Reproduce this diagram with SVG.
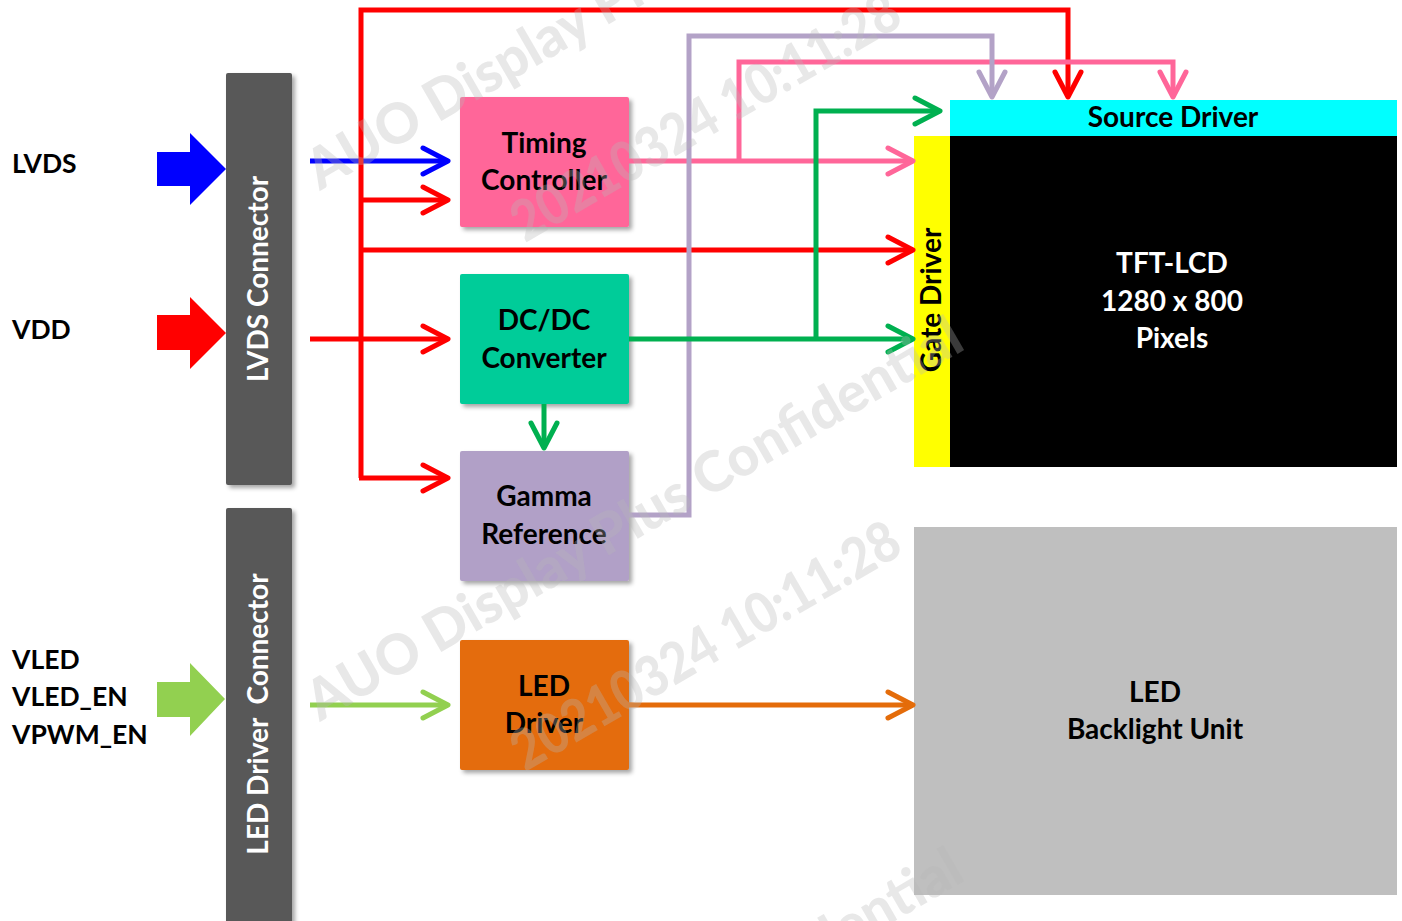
<svg xmlns="http://www.w3.org/2000/svg" width="1402" height="921" viewBox="0 0 1402 921">
<style>
.t{font-family:Lato,"Liberation Sans",sans-serif;font-weight:bold;font-size:28px;fill:#000;text-anchor:middle}
.lbl{font-family:Lato,"Liberation Sans",sans-serif;font-weight:bold;font-size:26.5px;fill:#000}
.w{fill:#fff}
.ln{fill:none;stroke-width:5;stroke-linejoin:miter}
.wm{font-family:Lato,"Liberation Sans",sans-serif;font-weight:900;font-size:56px;fill:#b8b8b8;fill-opacity:0.32}
</style>
<defs>
<filter id="sh" x="-10%" y="-10%" width="130%" height="130%">
<feDropShadow dx="3" dy="3" stdDeviation="2" flood-color="#000" flood-opacity="0.35"/>
</filter>
<marker id="aR" markerUnits="userSpaceOnUse" markerWidth="40" markerHeight="40" refX="28" refY="16" orient="auto"><path d="M3,3 L28,16 L3,29" fill="none" stroke="#ff0000" stroke-width="5" stroke-linecap="round" stroke-linejoin="round"/></marker>
<marker id="aB" markerUnits="userSpaceOnUse" markerWidth="40" markerHeight="40" refX="28" refY="16" orient="auto"><path d="M3,3 L28,16 L3,29" fill="none" stroke="#0000ff" stroke-width="5" stroke-linecap="round" stroke-linejoin="round"/></marker>
<marker id="aP" markerUnits="userSpaceOnUse" markerWidth="40" markerHeight="40" refX="28" refY="16" orient="auto"><path d="M3,3 L28,16 L3,29" fill="none" stroke="#ff6699" stroke-width="5" stroke-linecap="round" stroke-linejoin="round"/></marker>
<marker id="aL" markerUnits="userSpaceOnUse" markerWidth="40" markerHeight="40" refX="28" refY="16" orient="auto"><path d="M3,3 L28,16 L3,29" fill="none" stroke="#b3a2c7" stroke-width="5" stroke-linecap="round" stroke-linejoin="round"/></marker>
<marker id="aG" markerUnits="userSpaceOnUse" markerWidth="40" markerHeight="40" refX="28" refY="16" orient="auto"><path d="M3,3 L28,16 L3,29" fill="none" stroke="#00b050" stroke-width="5" stroke-linecap="round" stroke-linejoin="round"/></marker>
<marker id="aLG" markerUnits="userSpaceOnUse" markerWidth="40" markerHeight="40" refX="28" refY="16" orient="auto"><path d="M3,3 L28,16 L3,29" fill="none" stroke="#92d050" stroke-width="5" stroke-linecap="round" stroke-linejoin="round"/></marker>
<marker id="aO" markerUnits="userSpaceOnUse" markerWidth="40" markerHeight="40" refX="28" refY="16" orient="auto"><path d="M3,3 L28,16 L3,29" fill="none" stroke="#e46c0a" stroke-width="5" stroke-linecap="round" stroke-linejoin="round"/></marker>
</defs>
<rect width="1402" height="921" fill="#fff"/>

<g id="inputs">
<text class="lbl" x="12" y="173">LVDS</text>
<text class="lbl" x="12" y="339">VDD</text>
<text class="lbl" x="12" y="669">VLED</text>
<text class="lbl" x="12" y="706">VLED_EN</text>
<text class="lbl" x="12" y="744">VPWM_EN</text>
<polygon points="157,152 190,152 190,133 226,169 190,205 190,186 157,186" fill="#0000ff"/>
<polygon points="157,315 190,315 190,297 226,333 190,369 190,350 157,350" fill="#ff0000"/>
<polygon points="157,682 190,682 190,663 225,699 190,736 190,717 157,717" fill="#92d050"/>
</g>

<g id="lvds-connector">
<rect x="226" y="73" width="66" height="412" rx="2" fill="#595959" filter="url(#sh)"/>
<text class="t w" transform="translate(259,279) rotate(-90)" y="9">LVDS Connector</text>
</g>
<g id="led-connector">
<rect x="226" y="508" width="66" height="420" rx="2" fill="#595959" filter="url(#sh)"/>
<text class="t w" transform="translate(259,714) rotate(-90)" y="9" xml:space="preserve">LED Driver  Connector</text>
</g>

<g id="timing-controller">
<rect x="460" y="97" width="169" height="130" rx="2" fill="#ff6699" filter="url(#sh)"/>
<text class="t" x="544" y="153">Timing</text>
<text class="t" x="544" y="190">Controller</text>
</g>
<g id="dcdc-converter">
<rect x="460" y="274" width="169" height="130" rx="2" fill="#00cc99" filter="url(#sh)"/>
<text class="t" x="544" y="330">DC/DC</text>
<text class="t" x="544" y="368">Converter</text>
</g>
<g id="gamma-reference">
<rect x="460" y="451" width="169" height="130" rx="2" fill="#b1a0c7" filter="url(#sh)"/>
<text class="t" x="544" y="506">Gamma</text>
<text class="t" x="544" y="544">Reference</text>
</g>
<g id="led-driver">
<rect x="460" y="640" width="169" height="130" rx="2" fill="#e46c0a" filter="url(#sh)"/>
<text class="t" x="544" y="696">LED</text>
<text class="t" x="544" y="733">Driver</text>
</g>

<g id="source-driver">
<rect x="950" y="100" width="447" height="36" fill="#00ffff"/>
<text class="t" x="1173" y="127">Source Driver</text>
</g>
<g id="gate-driver">
<rect x="914" y="136" width="36" height="331" fill="#ffff00"/>
<text class="t" transform="translate(932,300) rotate(-90)" y="9">Gate Driver</text>
</g>
<g id="tft-lcd">
<rect x="950" y="136" width="447" height="331" fill="#000"/>
<text class="t w" x="1172" y="273">TFT-LCD</text>
<text class="t w" x="1172" y="311">1280 x 800</text>
<text class="t w" x="1172" y="348">Pixels</text>
</g>
<g id="led-backlight-unit">
<rect x="914" y="527" width="483" height="368" fill="#bfbfbf"/>
<text class="t" x="1155" y="702">LED</text>
<text class="t" x="1155" y="739">Backlight Unit</text>
</g>

<g id="connectors">
<path class="ln" stroke="#0000ff" d="M310,161 L448,161" marker-end="url(#aB)"/>
<path class="ln" stroke="#ff0000" d="M361,478 L361,10 L1068,10 L1068,97" marker-end="url(#aR)"/>
<path class="ln" stroke="#ff0000" d="M359,478 L448,478" marker-end="url(#aR)"/>
<path class="ln" stroke="#ff0000" d="M361,200 L448,200" marker-end="url(#aR)"/>
<path class="ln" stroke="#ff0000" d="M361,250 L913,250" marker-end="url(#aR)"/>
<path class="ln" stroke="#ff0000" d="M310,339 L448,339" marker-end="url(#aR)"/>
<path class="ln" stroke="#ff6699" d="M629,161 L913,161" marker-end="url(#aP)"/>
<path class="ln" stroke="#ff6699" d="M739,161 L739,62 L1173,62 L1173,97" marker-end="url(#aP)"/>
<path class="ln" stroke="#b3a2c7" d="M629,515 L689,515 L689,36 L992,36 L992,97" marker-end="url(#aL)"/>
<path class="ln" stroke="#00b050" d="M629,339 L913,339" marker-end="url(#aG)"/>
<path class="ln" stroke="#00b050" d="M816,339 L816,111 L940,111" marker-end="url(#aG)"/>
<path class="ln" stroke="#00b050" d="M544,404 L544,448" marker-end="url(#aG)"/>
<path class="ln" stroke="#92d050" d="M310,705 L448,705" marker-end="url(#aLG)"/>
<path class="ln" stroke="#e46c0a" d="M629,705 L913,705" marker-end="url(#aO)"/>
</g>

<g id="watermark">
<text class="wm" transform="translate(320,191) rotate(-30)" textLength="747" lengthAdjust="spacingAndGlyphs">AUO Display Plus Confidential</text>
<text class="wm" transform="translate(525,243) rotate(-30)" textLength="439" lengthAdjust="spacingAndGlyphs">20210324 10:11:28</text>
<text class="wm" transform="translate(320,722) rotate(-30)" textLength="747" lengthAdjust="spacingAndGlyphs">AUO Display Plus Confidential</text>
<text class="wm" transform="translate(525,772) rotate(-30)" textLength="439" lengthAdjust="spacingAndGlyphs">20210324 10:11:28</text>
<text class="wm" transform="translate(320,1253) rotate(-30)" textLength="747" lengthAdjust="spacingAndGlyphs">AUO Display Plus Confidential</text>
</g>
</svg>
